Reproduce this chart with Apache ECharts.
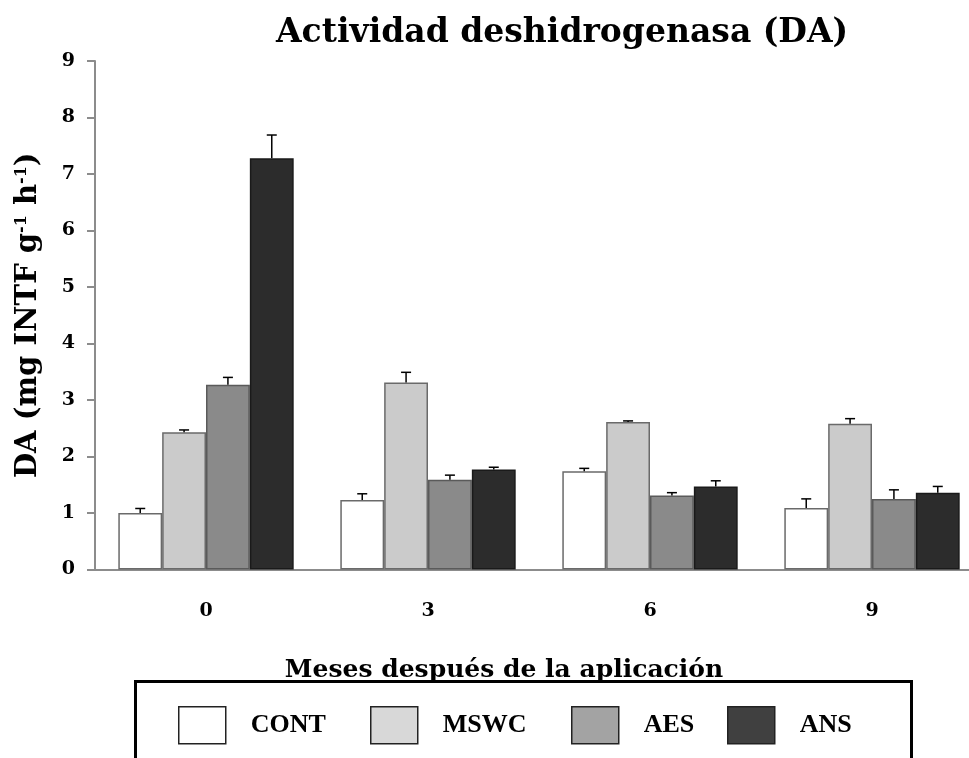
<!DOCTYPE html>
<html>
<head>
<meta charset="utf-8">
<title>Actividad deshidrogenasa (DA)</title>
<script src="https://cdn.jsdelivr.net/npm/echarts@6/dist/echarts.min.js"></script>
<style>
  html, body { margin: 0; padding: 0; background: #fff; }
  #chart { width: 969px; height: 758px; }
</style>
</head>
<body>
<div id="chart"></div>
<script>
// Months after application
const months = ['0', '3', '6', '9'];
const yTicks = [0, 1, 2, 3, 4, 5, 6, 7, 8, 9];

// Dehydrogenase activity (mg INTF g-1 h-1) per treatment, and standard error
const treatments = ['CONT', 'MSWC', 'AES', 'ANS'];
const contVals = [1.0, 1.23, 1.74, 1.09];
const contErr  = [0.08, 0.11, 0.05, 0.16];
const mswcVals = [2.43, 3.31, 2.61, 2.58];
const mswcErr  = [0.04, 0.18, 0.02, 0.09];
const aesVals  = [3.27, 1.59, 1.31, 1.25];
const aesErr   = [0.13, 0.08, 0.05, 0.16];
const ansVals  = [7.28, 1.77, 1.47, 1.36];
const ansErr   = [0.41, 0.04, 0.10, 0.11];

const SERIF = '"DejaVu Serif", "Liberation Serif", serif';
const LEG_FONT = '"Liberation Serif", "DejaVu Serif", serif';
const GAP = 0.21;

const barColors    = ['#ffffff', '#cbcbcb', '#8a8a8a', '#2c2c2c'];
const barBorders   = ['#6a6a6a', '#6a6a6a', '#5a5a5a', '#1a1a1a'];
const legendColors = ['#ffffff', '#d8d8d8', '#a3a3a3', '#404040'];
const legendLeft   = [178, 370, 571, 727];

const valueSets = [contVals, mswcVals, aesVals, ansVals];
const errSets = [contErr, mswcErr, aesErr, ansErr];

const barSeries = treatments.map((name, k) => ({
  name: name,
  type: 'bar',
  barGap: '0%',
  barCategoryGap: (GAP * 100) + '%',
  itemStyle: { color: barColors[k], borderColor: barBorders[k], borderWidth: 1.5 },
  data: valueSets[k],
  z: 2
}));

// Upper error whiskers with a cap, placed over each bar of the group
const errSeries = treatments.map((name, k) => ({
  name: name + ' error',
  type: 'custom',
  z: 3,
  renderItem: function (params, api) {
    const i = api.value(0);
    const v = api.value(1);
    const e = api.value(2);
    const band = api.size([1, 0])[0];
    const bw = band * (1 - GAP) / 4;
    const base = api.coord([i, v]);
    const top = api.coord([i, v + e]);
    const x = base[0] + (k - 1.5) * bw;
    const cap = 5;
    return {
      type: 'group',
      children: [
        { type: 'line', shape: { x1: x, y1: base[1], x2: x, y2: top[1] },
          style: { stroke: '#000', lineWidth: 1.5 } },
        { type: 'line', shape: { x1: x - cap, y1: top[1], x2: x + cap, y2: top[1] },
          style: { stroke: '#000', lineWidth: 1.5 } }
      ]
    };
  },
  encode: { x: 0, y: 1 },
  data: valueSets[k].map((v, i) => [i, v, errSets[k][i]])
}));

const legends = treatments.map((name, k) => ({
  data: [{ name: name, icon: 'rect', itemStyle: { color: legendColors[k], borderColor: '#222', borderWidth: 1.5 } }],
  left: legendLeft[k],
  top: 706,
  padding: 0,
  itemWidth: 47,
  itemHeight: 37,
  selectedMode: false,
  textStyle: {
    fontFamily: LEG_FONT, fontWeight: 'bold', fontSize: 26, color: '#000',
    padding: [0, 0, 0, 20]
  }
}));

const chart = echarts.init(document.getElementById('chart'), null, { renderer: 'canvas' });
chart.setOption({
  backgroundColor: '#ffffff',
  animation: false,
  title: {
    text: 'Actividad deshidrogenasa (DA)',
    left: 276,
    top: 17,
    padding: 0,
    textStyle: { fontFamily: SERIF, fontWeight: 'bold', fontSize: 33, color: '#000' }
  },
  legend: legends,
  graphic: [{
    type: 'rect',
    shape: { x: 135.5, y: 681.5, width: 776, height: 120 },
    style: { fill: 'none', stroke: '#000', lineWidth: 3 },
    z: 0
  }],
  grid: { left: 95, top: 61, width: 888, height: 508.5, containLabel: false, outerBoundsMode: 'none' },
  xAxis: {
    type: 'category',
    data: months,
    name: 'Meses después de la aplicación',
    nameLocation: 'middle',
    nameGap: 88,
    nameTextStyle: { fontFamily: SERIF, fontWeight: 'bold', fontSize: 25, color: '#000', padding: [0, 70, 0, 0] },
    axisLine: { lineStyle: { color: '#8c8c8c', width: 2 } },
    axisTick: { show: false },
    axisLabel: { fontFamily: SERIF, fontWeight: 'bold', fontSize: 19, color: '#000', margin: 32 }
  },
  yAxis: {
    type: 'value',
    min: yTicks[0],
    max: yTicks[yTicks.length - 1],
    interval: 1,
    name: 'DA (mg INTF g{s|-1} h{s|-1})',
    nameLocation: 'middle',
    nameGap: 52,
    nameTextStyle: {
      fontFamily: SERIF, fontWeight: 'bold', fontSize: 29, color: '#000',
      rich: {
        s: { fontFamily: SERIF, fontWeight: 'bold', fontSize: 16, color: '#000', verticalAlign: 'top', padding: [0, 0, 12, 0] }
      }
    },
    splitLine: { show: false },
    axisLine: { show: true, lineStyle: { color: '#8c8c8c', width: 2 } },
    axisTick: { show: true, length: 8, lineStyle: { color: '#8c8c8c', width: 2 } },
    axisLabel: { fontFamily: SERIF, fontWeight: 'bold', fontSize: 19, color: '#000', margin: 20 }
  },
  series: barSeries.concat(errSeries)
});
</script>
</body>
</html>
